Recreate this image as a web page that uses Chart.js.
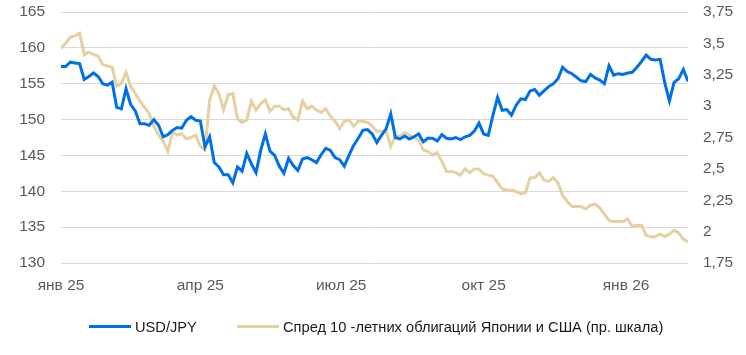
<!DOCTYPE html>
<html>
<head>
<meta charset="utf-8">
<script src="https://cdn.jsdelivr.net/npm/chart.js@4/dist/chart.umd.min.js"></script>
<style>
html,body{margin:0;padding:0;background:#fff;}
#wrap{width:746px;height:355px;position:relative;overflow:hidden;}
#c{position:absolute;left:0;top:0;}
.lg-line{position:absolute;height:3px;width:42px;top:325px;}
.lg-text{position:absolute;top:317px;line-height:20px;font-family:'Liberation Sans',Arial,sans-serif;font-size:14.67px;color:#1a1a1a;white-space:nowrap;}
</style>
</head>
<body>
<div id="wrap">
  <canvas id="c" width="746" height="355"></canvas>
  <div class="lg-line" id="lg0l" style="left:89px"></div>
  <div class="lg-text" id="lg0t" style="left:135px"></div>
  <div class="lg-line" id="lg1l" style="left:237px"></div>
  <div class="lg-text" id="lg1t" style="left:283px"></div>
</div>
<script>
// Observation dates: every 3 calendar days starting 2025-01-01
const startDate = '2025-01-01';
const stepDays = 3;

// USD/JPY (left axis)
const usdJpy = [
157.4,157.4,158.0,157.9,157.8,155.6,156.0,156.5,156.0,155.0,
154.8,155.2,151.7,151.5,154.3,152.1,151.2,149.4,149.4,149.2,
150.0,149.2,147.6,147.9,148.5,148.9,148.8,149.9,150.4,149.9,
149.8,146.2,147.6,144.0,143.4,142.3,142.3,141.2,143.4,142.8,
145.3,143.8,142.6,145.7,148.0,145.6,145.0,143.5,142.5,144.6,
143.6,142.9,144.5,144.7,144.4,144.0,145.1,146.0,145.7,144.7,
144.4,143.5,145.0,146.4,147.4,148.5,148.6,148.0,146.8,147.8,
148.7,150.8,147.5,147.3,147.7,147.3,147.6,148.0,146.9,147.4,
147.4,147.0,147.9,147.4,147.3,147.5,147.2,147.6,147.8,148.4,
149.5,148.0,147.8,150.6,153.1,151.3,151.4,150.6,152.0,152.9,
152.8,154.0,154.2,153.4,154.0,154.6,155.0,155.7,157.3,156.7,
156.4,155.9,155.4,155.3,156.3,155.8,155.5,155.0,157.5,156.2,
156.4,156.3,156.5,156.6,157.3,158.1,159.0,158.4,158.3,158.4,
155.1,152.6,155.2,155.7,157.0,155.3
];

// 10-year JGB / UST yield spread (right axis)
const spread = [
3.46,3.50,3.55,3.56,3.58,3.41,3.43,3.41,3.40,3.33,
3.32,3.31,3.16,3.18,3.27,3.16,3.10,3.04,2.99,2.94,
2.84,2.77,2.72,2.64,2.79,2.77,2.78,2.74,2.75,2.77,
2.68,2.65,3.05,3.16,3.10,2.97,3.09,3.10,2.90,2.87,
2.89,3.04,2.97,3.02,3.05,2.96,3.00,3.00,2.97,2.98,
2.91,2.89,3.04,2.98,3.00,2.97,2.95,2.98,2.92,2.88,
2.82,2.88,2.89,2.84,2.88,2.88,2.87,2.84,2.80,2.80,
2.80,2.68,2.76,2.76,2.79,2.77,2.75,2.73,2.65,2.64,
2.61,2.63,2.56,2.48,2.48,2.47,2.45,2.50,2.47,2.50,
2.50,2.46,2.45,2.44,2.39,2.34,2.33,2.33,2.32,2.30,
2.31,2.43,2.43,2.47,2.41,2.40,2.43,2.39,2.29,2.24,
2.20,2.20,2.20,2.18,2.21,2.22,2.19,2.14,2.09,2.08,
2.08,2.08,2.10,2.04,2.05,2.05,1.97,1.96,1.96,1.98,
1.96,1.98,2.01,1.99,1.94,1.92
];

const xTickDates = ['2025-01-01','2025-04-01','2025-07-01','2025-10-01','2026-01-01'];
const xTickLabels = ['янв 25','апр 25','июл 25','окт 25','янв 26'];
const leftTicks = [130,135,140,145,150,155,160,165];
const rightTicks = [1.75,2,2.25,2.5,2.75,3,3.25,3.5,3.75];

const seriesNames = ['USD/JPY','Спред 10 -летних облигаций Японии и США (пр. шкала)'];
const seriesColors = ['#0070e6','#e6cfa1'];

// ---- build ----
const DAY = 86400000;
const t0 = Date.parse(startDate + 'T00:00:00Z');
const dayOf = s => Math.round((Date.parse(s + 'T00:00:00Z') - t0) / DAY);
const dates = usdJpy.map((_, i) => new Date(t0 + i * stepDays * DAY).toISOString().slice(0,10));
const xs = dates.map(dayOf);
const tickDays = xTickDates.map(dayOf);

// legend (HTML, real text)
[0,1].forEach(i => {
  document.getElementById('lg'+i+'l').style.background = seriesColors[i];
  document.getElementById('lg'+i+'t').textContent = seriesNames[i];
});

const TICKFONT = { family: "'Liberation Sans', Arial, sans-serif", size: 15.5 };
const noVPad = s => { s.paddingTop = 0; s.paddingBottom = 0; };

new Chart(document.getElementById('c'), {
  type: 'line',
  data: {
    datasets: [
      {
        label: seriesNames[0],
        data: xs.map((x, i) => ({x, y: usdJpy[i]})),
        borderColor: seriesColors[0],
        backgroundColor: seriesColors[0],
        borderWidth: 3,
        pointRadius: 0,
        tension: 0,
        yAxisID: 'y'
      },
      {
        label: seriesNames[1],
        data: xs.map((x, i) => ({x, y: spread[i]})),
        borderColor: seriesColors[1],
        backgroundColor: seriesColors[1],
        borderWidth: 3,
        pointRadius: 0,
        tension: 0,
        yAxisID: 'y1'
      }
    ]
  },
  options: {
    responsive: false,
    animation: false,
    events: [],
    layout: { autoPadding: false, padding: { top: 12, bottom: 60, left: 0, right: 0 } },
    plugins: {
      tooltip: { enabled: false },
      legend: { display: false }
    },
    scales: {
      x: {
        type: 'linear',
        min: 0,
        max: xs[xs.length - 1],
        afterBuildTicks: s => { s.ticks = tickDays.map(v => ({ value: v })); },
        afterFit: s => { s.height = 32; s.paddingLeft = 0; s.paddingRight = 0; },
        ticks: {
          autoSkip: false,
          maxRotation: 0,
          padding: 13,
          color: '#595959',
          font: TICKFONT,
          callback: v => { const k = tickDays.indexOf(v); return k >= 0 ? xTickLabels[k] : ''; }
        },
        grid: { display: false, drawTicks: false },
        border: { display: false }
      },
      y: {
        position: 'left',
        min: leftTicks[0],
        max: leftTicks[leftTicks.length - 1],
        afterBuildTicks: s => { s.ticks = leftTicks.map(v => ({ value: v })); },
        afterFit: s => { s.width = 61; noVPad(s); },
        ticks: {
          padding: 16,
          color: '#595959',
          font: TICKFONT
        },
        grid: { color: '#d9d9d9', lineWidth: 1, drawTicks: false },
        border: { display: false }
      },
      y1: {
        position: 'right',
        min: rightTicks[0],
        max: rightTicks[rightTicks.length - 1],
        afterBuildTicks: s => { s.ticks = rightTicks.map(v => ({ value: v })); },
        afterFit: s => { s.width = 58; noVPad(s); },
        ticks: {
          padding: 15,
          color: '#595959',
          font: TICKFONT,
          callback: v => String(v).replace('.', ',')
        },
        grid: { display: false, drawTicks: false },
        border: { display: false }
      }
    }
  }
});
</script>
</body>
</html>
